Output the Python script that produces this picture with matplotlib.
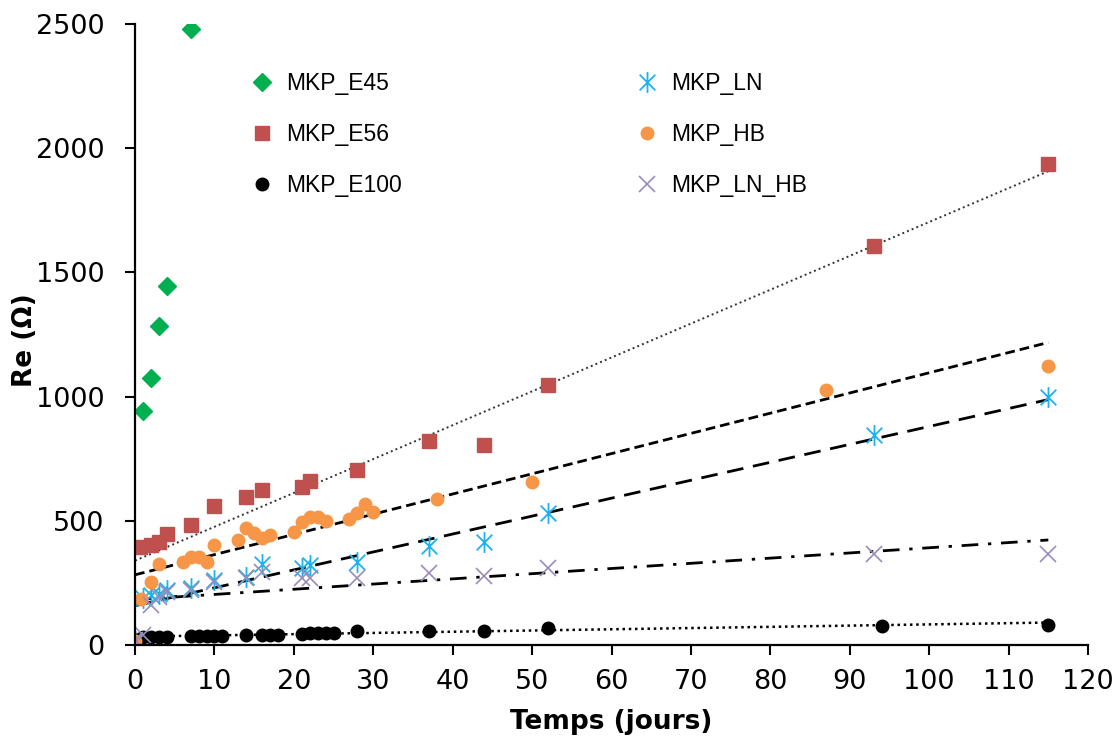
import numpy as np
import matplotlib
matplotlib.use("Agg")
import matplotlib.pyplot as plt
from matplotlib.path import Path

# données : temps (jours) et Re (ohm)
e45_t = [1, 2, 3, 4, 7]
e45_re = [940, 1073, 1286, 1444, 2480]

e56_t = [0, 0.6, 2, 3, 4, 7, 10, 14, 16, 21, 22, 28, 37, 44, 52, 93, 115]
e56_re = [20, 396, 403, 416, 447, 485, 558, 594, 622, 638, 661, 706, 820, 806, 1048, 1605, 1935]

e100_t = [0, 1, 2, 3, 4, 7, 8, 9, 10, 11, 14, 16, 17, 18, 21, 22, 23, 24, 25, 28, 37, 44, 52, 94, 115]
e100_re = [20, 34, 34, 34, 34, 36, 36, 36, 37, 37, 42, 42, 42, 42, 46, 49, 47, 48, 48, 55, 57, 57, 68, 78, 82]

ln_t = [0, 1, 2, 3, 4, 7, 10, 14, 16, 21, 22, 28, 37, 44, 52, 93, 115]
ln_re = [15, 190, 202, 204, 222, 228, 262, 273, 325, 309, 320, 336, 397, 413, 530, 847, 998]

hb_t = [0, 0.8, 2, 3, 6, 7, 8, 9, 10, 13, 14, 15, 16, 17, 20, 21, 22, 23, 24, 27, 28, 29, 30, 38, 50, 87, 115]
hb_re = [15, 184, 255, 325, 336, 353, 353, 336, 403, 423, 470, 450, 430, 443, 454, 497, 515, 515, 501,
         506, 530, 567, 534, 587, 655, 1028, 1125]

lnhb_t = [0, 1, 2, 3, 4, 7, 10, 14, 16, 21, 22, 28, 37, 44, 52, 93, 115]
lnhb_re = [20, 42, 161, 192, 215, 222, 255, 268, 292, 269, 269, 269, 289, 278, 309, 367, 367]

# marqueur asterisque facon Excel (| + X)
star = Path([(0, -1), (0, 1), (-0.75, -0.75), (0.75, 0.75), (-0.75, 0.75), (0.75, -0.75)],
            [Path.MOVETO, Path.LINETO, Path.MOVETO, Path.LINETO, Path.MOVETO, Path.LINETO])

fig = plt.figure(figsize=(11.18, 7.4), dpi=100)
ax = fig.add_axes([0.1208, 0.1284, 0.8524, 0.8392])

h45, = ax.plot(e45_t, e45_re, ls='none', marker='D', ms=9.5, color='#00B050', label='MKP_E45')
h56, = ax.plot(e56_t, e56_re, ls='none', marker='s', ms=10, color='#C0504D', label='MKP_E56')
h100, = ax.plot(e100_t, e100_re, ls='none', marker='o', ms=9, color='black', label='MKP_E100')
hln, = ax.plot(ln_t, ln_re, ls='none', marker=star, ms=15, mew=1.3, mec='#1CB2EE',
               mfc='none', label='MKP_LN')
hhb, = ax.plot(hb_t, hb_re, ls='none', marker='o', ms=9, color='#F79646', label='MKP_HB')
hlnhb, = ax.plot(lnhb_t, lnhb_re, ls='none', marker='x', ms=12, mew=1.2, color='#9A8CBA',
                 label='MKP_LN_HB')

# courbes de tendance lineaires
xx = np.array([0, 115])
trends = [
    (e56_t, e56_re, dict(ls=(0, (1, 1.6)), lw=1.4, color='#333333')),
    (hb_t, hb_re, dict(ls=(0, (3.5, 1.8)), lw=2.0, color='black')),
    (ln_t, ln_re, dict(ls=(0, (6, 3.5)), lw=2.0, color='black')),
    (lnhb_t, lnhb_re, dict(ls=(0, (6, 3.5, 1.2, 3.5)), lw=2.0, color='black')),
    (e100_t, e100_re, dict(ls=(0, (1, 1.5)), lw=1.8, color='black')),
]
for t, r, st in trends:
    a, b = np.polyfit(t, r, 1)
    ax.plot(xx, a * xx + b, zorder=1.5, **st)

ax.set_xlim(0, 120)
ax.set_ylim(0, 2500)
ax.set_xticks(np.arange(0, 121, 10))
ax.set_yticks(np.arange(0, 2501, 500))
for s in ['top', 'right']:
    ax.spines[s].set_visible(False)
for s in ['left', 'bottom']:
    ax.spines[s].set_linewidth(1.6)
ax.tick_params(direction='out', length=7, width=1.5)
ax.tick_params(axis='y', pad=15)
ax.tick_params(axis='x', pad=10)
for lab in ax.get_xticklabels() + ax.get_yticklabels():
    lab.set_fontfamily(['DejaVu Sans Condensed', 'DejaVu Sans'])
    lab.set_fontsize(19.5)
ax.set_xlabel('Temps (jours)', fontsize=19, fontweight='bold')
ax.set_ylabel('Re (Ω)', fontsize=19, fontweight='bold')
ax.xaxis.set_label_coords(0.5, -0.103)
ax.yaxis.set_label_coords(-0.1018, 0.491)

leg_font = {'family': 'Liberation Sans', 'size': 16.5}
leg1 = ax.legend(handles=[h45, h56, h100], loc='upper left', bbox_to_anchor=(251 / 1118, 1 - 72 / 740),
                 bbox_transform=fig.transFigure, frameon=False, prop=leg_font,
                 handlelength=1, handletextpad=0.55, labelspacing=1.22, borderpad=0, borderaxespad=0)
ax.add_artist(leg1)
ax.legend(handles=[hln, hhb, hlnhb], loc='upper left', bbox_to_anchor=(636 / 1118, 1 - 72 / 740),
          bbox_transform=fig.transFigure, frameon=False, prop=leg_font,
          handlelength=1, handletextpad=0.55, labelspacing=1.22, borderpad=0, borderaxespad=0)

fig.savefig('out.png', dpi=100)
